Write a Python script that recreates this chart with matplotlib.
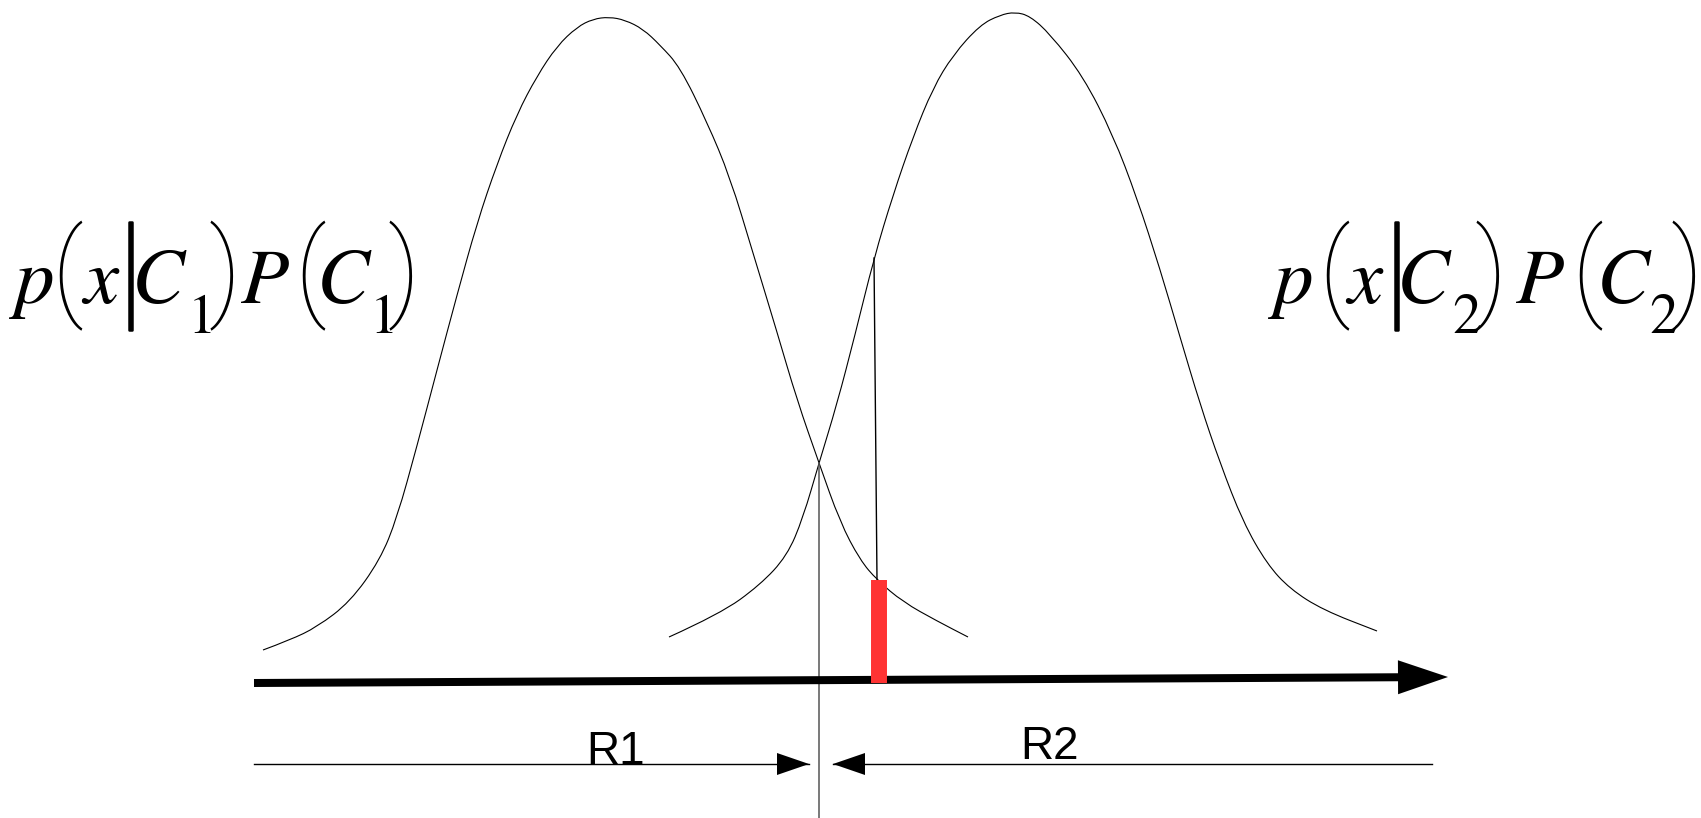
import matplotlib
matplotlib.use('Agg')
import matplotlib.pyplot as plt
import matplotlib.patheffects as pe
from matplotlib.path import Path
from matplotlib.patches import PathPatch

plt.rcParams['mathtext.fontset'] = 'stix'

# everything in picture units: x to the right, y downwards (1 unit = 1 px)
c1_x = [263, 290, 317, 350, 380, 397, 417, 437, 457, 477, 497, 517, 537, 557, 577, 593, 609,
        625, 643, 660, 680, 707, 730, 753, 777, 797, 819, 840, 860, 877, 903, 937, 968]
c1_y = [650, 640, 627, 602, 560, 518, 446, 370, 295, 223, 164, 114, 76, 46, 27, 19, 17,
        20, 29, 45, 67, 122, 177, 253, 332, 400, 463, 522, 560, 580, 602, 621, 637]
c2_x = [669, 720, 760, 787, 803, 819, 837, 855, 874, 893, 913, 933, 953, 980, 1000, 1015,
        1030, 1050, 1083, 1113, 1137, 1160, 1180, 1200, 1220, 1243, 1267, 1290, 1323, 1377]
c2_y = [637, 614, 585, 556, 518, 463, 404, 335, 258, 195, 137, 88, 55, 25, 15, 12,
        16, 34, 76, 135, 198, 269, 337, 404, 463, 522, 564, 589, 610, 631]
boundary_x = [819, 819]
boundary_y = [463, 818]
sample_x = [874, 877]
sample_y = [258, 580]
bar_x = 879
bar_y = [580, 683]
axis_x = [254, 1448]
axis_y = [683, 677]
r_y = 764
r1_x = [254, 809]
r2_x = [1432, 833]
regions = ['R1', 'R2']
region_x = [616, 1049]
region_y = [764, 759]

glyphs1 = ['p', '(', 'x', '|', 'C', '1', ')', 'P', '(', 'C', '1', ')']
glyphs2 = ['p', '(', 'x', '|', 'C', '2', ')', 'P', '(', 'C', '2', ')']
kinds = ['it', 'par', 'it', 'bar', 'it', 'sub', 'par', 'it', 'par', 'it', 'sub', 'par']
glyph_x1 = [32, 67, 101, 130, 159, 199, 225, 265, 310, 344, 381, 404]
glyph_x2 = [1291, 1334, 1365, 1396, 1424, 1467, 1491, 1540, 1587, 1624, 1664, 1687]


def smooth_path(xs, ys):
    # quadratic bezier through midpoints, drawn by matplotlib
    verts = [(xs[0], ys[0])]
    codes = [Path.MOVETO]
    for i in range(1, len(xs) - 1):
        verts += [(xs[i], ys[i]), ((xs[i] + xs[i + 1]) / 2, (ys[i] + ys[i + 1]) / 2)]
        codes += [Path.CURVE3, Path.CURVE3]
    verts.append((xs[-1], ys[-1]))
    codes.append(Path.LINETO)
    return Path(verts, codes)


fig = plt.figure(figsize=(17.01, 8.18), dpi=100)
ax = fig.add_axes([0, 0, 1, 1])
ax.set_xlim(0, 1701)
ax.set_ylim(818, 0)
ax.axis('off')

for xs, ys in [(c1_x, c1_y), (c2_x, c2_y)]:
    ax.add_patch(PathPatch(smooth_path(xs, ys), fill=False, ec='black', lw=0.8))

ax.plot(boundary_x, boundary_y, color='#555555', lw=1.1)
ax.plot(sample_x, sample_y, color='black', lw=1.0)
ax.plot([bar_x, bar_x], bar_y, color='#ff3333', lw=11.5, solid_capstyle='butt', zorder=3)

# x axis
ax.arrow(axis_x[0], axis_y[0], axis_x[1] - axis_x[0], axis_y[1] - axis_y[0], width=8,
         head_width=34, head_length=50, length_includes_head=True, fc='black', ec='none', zorder=2)

# decision regions
for x0, x1 in [r1_x, r2_x]:
    ax.plot([x0, x1], [r_y, r_y], color='black', lw=1.0)
    ax.arrow(x0, r_y, x1 - x0, 0, width=0.01, head_width=22, head_length=32,
             length_includes_head=True, fc='black', ec='none')
for t, x, y in zip(regions, region_x, region_y):
    ax.text(x, y, t, ha='center', va='baseline', fontsize=33, family='Liberation Sans')

for glyphs, gx in [(glyphs1, glyph_x1), (glyphs2, glyph_x2)]:
    for g, k, x in zip(glyphs, kinds, gx):
        if k == 'it':
            ax.text(x, 303, '$' + g + '$', ha='center', va='baseline', fontsize=57)
        elif k == 'sub':
            ax.text(x, 333, r'$\mathrm{' + g + '}$', ha='center', va='baseline', fontsize=41)
        elif k == 'par':
            ax.text(x, 276, g, ha='center', va='center', fontsize=77, family='Roboto',
                    fontweight=100)
        else:
            ax.text(x, 278, g, ha='center', va='center', fontsize=92, family='Roboto',
                    fontweight=100,
                    path_effects=[pe.withStroke(linewidth=1.8, foreground='black')])

fig.savefig('out.png', dpi=100)
